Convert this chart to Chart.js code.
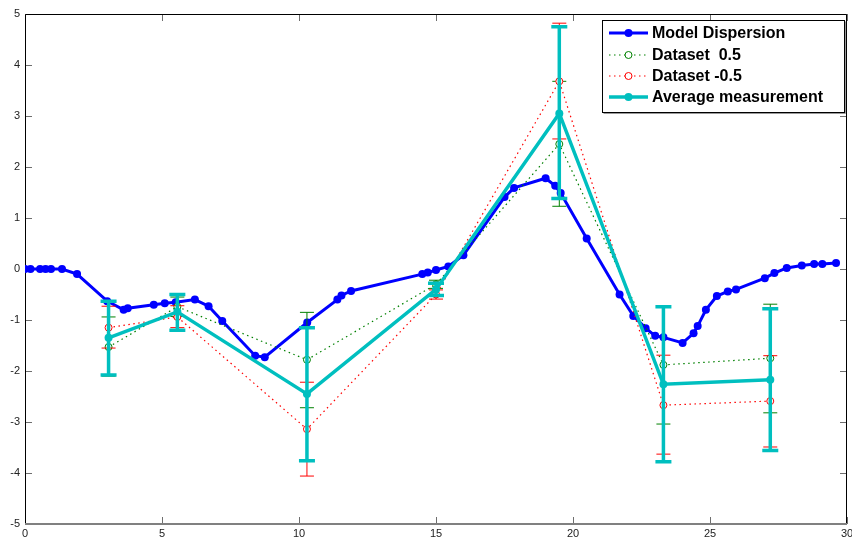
<!DOCTYPE html>
<html>
<head>
<meta charset="utf-8">
<script src="https://cdn.jsdelivr.net/npm/chart.js@4/dist/chart.umd.min.js"></script>
<style>
html,body{margin:0;padding:0;background:#fff;}
canvas{display:block;}
</style>
</head>
<body>
<canvas id="c" width="852" height="538"></canvas>
<script>
// ---- data ----
const xTicks = [0, 5, 10, 15, 20, 25, 30];
const yTicks = [-5, -4, -3, -2, -1, 0, 1, 2, 3, 4, 5];

const modelX = [0, 0.2, 0.55, 0.75, 0.95, 1.35, 1.9, 3.0, 3.6, 3.75, 4.7, 5.1, 5.5, 6.2, 6.7, 7.2, 8.4, 8.75,
  10.3, 11.4, 11.55, 11.9, 14.5, 14.7, 15.0, 15.45, 16.0, 17.5, 17.85, 19.0, 19.35, 19.55, 20.5, 21.7, 22.2,
  22.65, 23.0, 23.3, 24.0, 24.4, 24.55, 24.85, 25.25, 25.65, 25.95, 27.0, 27.35, 27.8, 28.35, 28.8, 29.1, 29.6];
const modelY = [0, 0, 0, 0, 0, 0, -0.1, -0.63, -0.8, -0.77, -0.7, -0.67, -0.65, -0.6, -0.73, -1.02, -1.7, -1.73,
  -1.05, -0.6, -0.52, -0.43, -0.1, -0.07, -0.02, 0.05, 0.27, 1.41, 1.59, 1.78, 1.63, 1.49, 0.6, -0.5, -0.92,
  -1.16, -1.31, -1.34, -1.45, -1.26, -1.12, -0.8, -0.53, -0.44, -0.4, -0.18, -0.08, 0.02, 0.07, 0.1, 0.1, 0.12];

const measX = [3.05, 5.56, 10.29, 15.0, 19.5, 23.3, 27.2];

const posY  = [-1.53, -0.74, -1.78, -0.30, 2.45, -1.88, -1.75];
const posLo = [-2.10, -0.93, -2.72, -0.38, 1.23, -3.04, -2.82];
const posHi = [-0.94, -0.55, -0.85, -0.22, 3.68, -0.72, -0.69];

const negY  = [-1.15, -0.94, -3.14, -0.50, 3.68, -2.67, -2.59];
const negLo = [-1.55, -1.15, -4.06, -0.59, 2.55, -3.63, -3.49];
const negHi = [-0.73, -0.72, -2.22, -0.41, 4.82, -1.69, -1.70];

const avgY  = [-1.35, -0.84, -2.45, -0.40, 3.05, -2.26, -2.17];
const avgLo = [-2.08, -1.20, -3.76, -0.52, 1.38, -3.78, -3.56];
const avgHi = [-0.63, -0.50, -1.15, -0.28, 4.75, -0.74, -0.78];

const labels = ['Model Dispersion', 'Dataset  0.5', 'Dataset -0.5', 'Average measurement'];

// ---- helpers ----
const pts = (xs, ys) => xs.map((x, i) => ({x: x, y: ys[i]}));

const BLUE = '#0000ff', GREEN = '#008000', RED = '#ff0000', CYAN = '#00bfbf';

const errorBars = {
  id: 'errorBars',
  afterDatasetDraw(chart, args) {
    const ds = chart.data.datasets[args.index];
    if (!ds.errLo) return;
    const xs = chart.scales.x, ys = chart.scales.y, ctx = chart.ctx;
    ctx.save();
    ctx.strokeStyle = ds.errColor;
    ctx.lineWidth = ds.errWidth;
    ctx.lineCap = 'butt';
    ds.data.forEach((p, i) => {
      const px = xs.getPixelForValue(p.x);
      const lo = ys.getPixelForValue(ds.errLo[i]);
      const hi = ys.getPixelForValue(ds.errHi[i]);
      const w = ds.capHalf;
      ctx.beginPath();
      ctx.moveTo(px, lo); ctx.lineTo(px, hi);
      ctx.moveTo(px - w, lo); ctx.lineTo(px + w, lo);
      ctx.moveTo(px - w, hi); ctx.lineTo(px + w, hi);
      ctx.stroke();
    });
    ctx.restore();
  }
};

const frame = {
  id: 'frame',
  beforeDatasetsDraw(chart) {
    const a = chart.chartArea, ctx = chart.ctx, xs = chart.scales.x, ys = chart.scales.y;
    ctx.save();
    ctx.lineWidth = 1;
    // ticks (inward)
    ctx.strokeStyle = '#6e6e6e';
    xTicks.forEach(v => {
      const px = Math.round(xs.getPixelForValue(v)) + 0.5;
      ctx.beginPath();
      ctx.moveTo(px, a.bottom); ctx.lineTo(px, a.bottom - 7);
      ctx.moveTo(px, a.top); ctx.lineTo(px, a.top + 7);
      ctx.stroke();
    });
    yTicks.forEach(v => {
      const py = Math.round(ys.getPixelForValue(v)) + 0.5;
      ctx.beginPath();
      ctx.moveTo(a.left, py); ctx.lineTo(a.left + 7, py);
      ctx.moveTo(a.right, py); ctx.lineTo(a.right - 7, py);
      ctx.stroke();
    });
    // box
    ctx.strokeStyle = '#000';
    ctx.beginPath();
    ctx.moveTo(a.left + 0.5, a.bottom); ctx.lineTo(a.left + 0.5, a.top + 0.5);
    ctx.lineTo(a.right - 0.5, a.top + 0.5); ctx.lineTo(a.right - 0.5, a.bottom);
    ctx.stroke();
    ctx.strokeStyle = '#808080';
    ctx.lineWidth = 2;
    ctx.beginPath();
    ctx.moveTo(a.left, a.bottom); ctx.lineTo(a.right, a.bottom);
    ctx.stroke();
    ctx.restore();
  }
};

const boxLegend = {
  id: 'boxLegend',
  afterDraw(chart) {
    const ctx = chart.ctx;
    const bx = 602, by = 20, bw = 242, bh = 92;
    ctx.save();
    ctx.fillStyle = '#fff';
    ctx.fillRect(bx, by, bw, bh);
    ctx.strokeStyle = '#000';
    ctx.lineWidth = 1;
    ctx.strokeRect(bx + 0.5, by + 0.5, bw, bh);
    ctx.strokeStyle = '#999';
    ctx.beginPath();
    ctx.moveTo(bx + 1.5, by + bh + 1.5); ctx.lineTo(bx + bw + 1.5, by + bh + 1.5); ctx.lineTo(bx + bw + 1.5, by + 1.5);
    ctx.stroke();
    const rows = [33, 55, 76, 97];
    chart.data.datasets.forEach((ds, i) => {
      const y = rows[i];
      ctx.strokeStyle = ds.borderColor;
      ctx.lineWidth = ds.borderWidth;
      ctx.setLineDash(ds.borderDash || []);
      ctx.beginPath();
      ctx.moveTo(609, y); ctx.lineTo(648, y);
      ctx.stroke();
      ctx.setLineDash([]);
      ctx.beginPath();
      ctx.arc(628.5, y, ds.pointRadius, 0, Math.PI * 2);
      if (ds.pointBackgroundColor !== '#ffffff') {
        ctx.fillStyle = ds.pointBackgroundColor; ctx.fill();
      } else {
        ctx.fillStyle = '#fff'; ctx.fill();
        ctx.strokeStyle = ds.pointBorderColor; ctx.lineWidth = 1; ctx.stroke();
      }
      ctx.fillStyle = '#000';
      ctx.font = 'bold 16px "Liberation Sans", Arial, sans-serif';
      ctx.textBaseline = 'middle';
      ctx.textAlign = 'left';
      ctx.fillText(ds.label, 652, y + 1);
    });
    ctx.restore();
  }
};

new Chart(document.getElementById('c'), {
  type: 'line',
  data: {
    datasets: [
      {
        label: labels[0], data: pts(modelX, modelY), order: 4,
        borderColor: BLUE, borderWidth: 3, pointRadius: 4, pointBackgroundColor: BLUE,
        pointBorderColor: BLUE, pointBorderWidth: 0, tension: 0
      },
      {
        label: labels[1], data: pts(measX, posY), order: 3,
        borderColor: GREEN, borderWidth: 1.2, borderDash: [1.5, 3.5], pointRadius: 3.5,
        pointBackgroundColor: '#ffffff', pointBorderColor: GREEN, pointBorderWidth: 1,
        errLo: posLo, errHi: posHi, errColor: GREEN, errWidth: 1, capHalf: 7
      },
      {
        label: labels[2], data: pts(measX, negY), order: 2,
        borderColor: RED, borderWidth: 1.2, borderDash: [1.5, 3.5], pointRadius: 3.5,
        pointBackgroundColor: '#ffffff', pointBorderColor: RED, pointBorderWidth: 1,
        errLo: negLo, errHi: negHi, errColor: RED, errWidth: 1, capHalf: 7
      },
      {
        label: labels[3], data: pts(measX, avgY), order: 1,
        borderColor: CYAN, borderWidth: 3.5, pointRadius: 4, pointBackgroundColor: CYAN,
        pointBorderColor: CYAN, pointBorderWidth: 0,
        errLo: avgLo, errHi: avgHi, errColor: CYAN, errWidth: 3.5, capHalf: 8
      }
    ]
  },
  options: {
    responsive: false,
    animation: false,
    devicePixelRatio: 1,
    layout: {padding: {top: 14, right: 1, left: 0, bottom: 0}},
    plugins: {legend: {display: false}, tooltip: {enabled: false}},
    scales: {
      x: {
        type: 'linear', min: 0, max: 30,
        afterBuildTicks: s => { s.ticks = xTicks.map(v => ({value: v})); },
        afterFit: s => { s.height = 14; s.paddingRight = 0; s.paddingLeft = 0; },
        grid: {display: false, drawTicks: false},
        border: {display: false},
        ticks: {padding: 3, color: '#222', font: {family: '"Liberation Sans", Arial, sans-serif', size: 11}, maxRotation: 0}
      },
      y: {
        type: 'linear', min: -5, max: 5,
        afterBuildTicks: s => { s.ticks = yTicks.map(v => ({value: v})); },
        afterFit: s => { s.width = 25; },
        grid: {display: false, drawTicks: false},
        border: {display: false},
        ticks: {padding: 5, color: '#222', font: {family: '"Liberation Sans", Arial, sans-serif', size: 11}}
      }
    }
  },
  plugins: [frame, errorBars, boxLegend]
});
</script>
</body>
</html>
